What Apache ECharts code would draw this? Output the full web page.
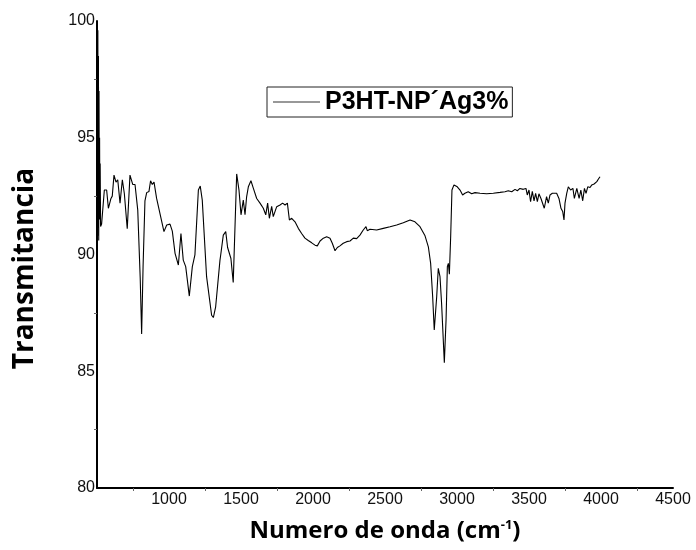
<!DOCTYPE html>
<html>
<head>
<meta charset="utf-8">
<title>FTIR P3HT-NP´Ag3%</title>
<script src="https://cdn.jsdelivr.net/npm/echarts@6/dist/echarts.min.js"></script>
<style>
  html, body { margin: 0; padding: 0; background: #fff; }
  #chart { width: 696px; height: 550px; }
</style>
</head>
<body>
<div id="chart"></div>
<script>
// FTIR spectrum of P3HT with 3% Ag nanoparticles
const seriesName = 'P3HT-NP´Ag3%';

// wavenumber (cm^-1)
const wavenumber = [
  500, 502, 504, 506, 508, 510, 512, 514, 516, 518, 520, 522, 525, 532,
  551, 567, 579, 597, 606, 618, 632, 644, 660, 676, 690, 710, 729, 748,
  764, 783, 800, 810, 820, 833, 845, 861, 872, 884, 896, 914, 937, 965,
  984, 1007, 1023, 1042, 1065, 1083, 1099, 1116, 1141, 1162, 1180, 1204,
  1217, 1231, 1261, 1296, 1308, 1324, 1354, 1359, 1377, 1394, 1407, 1417,
  1430, 1446, 1470, 1486, 1500, 1516, 1528, 1539, 1551, 1569, 1586, 1609,
  1632, 1655, 1672, 1685, 1697, 1713, 1724, 1748, 1771, 1789, 1806, 1822,
  1836, 1852, 1875, 1898, 1921, 1944, 1967, 1991, 2014, 2030, 2049, 2072,
  2095, 2118, 2134, 2153, 2169, 2187, 2210, 2234, 2257, 2280, 2303, 2326,
  2338, 2349, 2368, 2377, 2396, 2442, 2488, 2535, 2581, 2627, 2674, 2708,
  2743, 2778, 2801, 2817, 2831, 2842, 2859, 2870, 2882, 2893, 2912, 2924,
  2933, 2940, 2947, 2956, 2965, 2979, 3002, 3021, 3039, 3055, 3078, 3102,
  3125, 3160, 3206, 3252, 3299, 3333, 3356, 3380, 3403, 3419, 3437, 3460,
  3479, 3488, 3500, 3511, 3523, 3535, 3546, 3558, 3569, 3583, 3595, 3606,
  3622, 3634, 3646, 3662, 3674, 3692, 3708, 3722, 3734, 3743, 3750, 3762,
  3773, 3789, 3805, 3815, 3832, 3848, 3860, 3873, 3885, 3896, 3908, 3924,
  3936, 3952, 3971, 3981, 3993
];

// transmittance (%)
const transmitancia = [
  96.0, 100.0, 90.8, 99.6, 91.2, 98.5, 90.6, 97.0, 92.2, 95.0, 91.5, 93.9, 91.2, 91.3,
  92.76, 92.76, 91.98, 92.4, 92.5, 93.4, 93.1, 93.2, 92.2, 93.2, 92.6, 91.1, 93.4, 93.0,
  93.0, 91.9, 89.0, 86.6, 89.5, 92.3, 92.65, 92.7, 93.16, 93.0, 93.1, 92.4, 91.76, 90.98,
  91.26, 91.3, 91.0, 90.05, 89.55, 90.9, 89.76, 89.48, 88.22, 89.48, 89.98, 92.76,
  92.93, 92.33, 89.05, 87.4, 87.3, 87.76, 89.76, 89.98, 90.83, 90.98, 90.3, 90.27,
  89.83, 88.8, 93.45, 92.76, 91.7, 92.33, 91.7, 92.47, 92.9, 93.16, 92.83, 92.4,
  92.2, 91.98, 91.7, 92.2, 91.55, 92.06, 91.62, 92.05, 92.12, 92.2, 92.12, 92.2,
  91.48, 91.55, 91.4, 91.12, 90.9, 90.7, 90.6, 90.5, 90.4, 90.37, 90.58, 90.7,
  90.76, 90.7, 90.48, 90.16, 90.3, 90.37, 90.48, 90.55, 90.58, 90.7, 90.68, 90.83,
  90.9, 91.05, 91.19, 91.02, 91.08, 91.05, 91.12, 91.19, 91.26, 91.36, 91.48, 91.4,
  91.19, 90.8, 90.33, 89.62, 88.19, 86.77, 88.19, 89.41, 89.05, 87.9, 85.37, 87.2,
  89.48, 89.62, 89.16, 90.76, 92.76, 92.98, 92.9, 92.76, 92.55, 92.62, 92.69, 92.6,
  92.65, 92.62, 92.6, 92.62, 92.66, 92.69, 92.73, 92.69, 92.79, 92.73, 92.83, 92.79,
  92.83, 92.55, 92.76, 92.26, 92.7, 92.3, 92.62, 92.26, 92.6, 92.4, 92.4, 91.98,
  92.48, 92.2, 92.55, 92.62, 92.55, 92.62, 92.4, 91.98, 91.84, 91.48, 92.2, 92.62,
  92.9, 92.76, 92.83, 92.4, 92.83, 92.4, 92.76, 92.3, 92.83, 92.62, 92.9, 92.87,
  92.98, 93.02, 93.12, 93.22, 93.33
];

// axis ranges and tick spacing
const xRange = [500, 4500];
const xStep = 500;
const yRange = [80, 100];
const yStep = 5;

const points = wavenumber.map((w, i) => [w, transmitancia[i]]);

const tickFont = 'Liberation Sans, Arial, sans-serif';
const titleFont = '"Open Sans", "Noto Sans", sans-serif';

const chart = echarts.init(document.getElementById('chart'), null, { renderer: 'canvas' });

chart.setOption({
  backgroundColor: '#ffffff',
  animation: false,
  grid: { left: 97, right: 23, top: 21, bottom: 62, containLabel: false },
  legend: {
    data: [{ name: seriesName, icon: 'rect' }],
    left: 267,
    top: 87,
    padding: [2, 4, 2, 6],
    borderColor: '#222',
    borderWidth: 1,
    itemWidth: 47,
    itemHeight: 1,
    itemStyle: { color: '#333' },
    selectedMode: false,
    textStyle: {
      fontFamily: tickFont,
      fontWeight: 'bold',
      fontSize: 25,
      lineHeight: 26,
      color: '#000'
    }
  },
  xAxis: {
    type: 'value',
    min: xRange[0],
    max: xRange[1],
    interval: xStep,
    name: '{t|Numero de onda (cm}{s|-1}{t|)}',
    nameLocation: 'middle',
    nameGap: 31,
    nameTextStyle: {
      rich: {
        t: { fontFamily: titleFont, fontWeight: 'bold', fontSize: 24, color: '#000' },
        s: { fontFamily: titleFont, fontWeight: 'bold', fontSize: 13, color: '#000', verticalAlign: 'top', padding: [0, 0, 12, 0] }
      }
    },
    axisLine: { show: true, onZero: false, lineStyle: { color: '#000', width: 2 } },
    axisTick: { show: false },
    minorTick: { show: true, splitNumber: 2, length: 3, lineStyle: { color: '#666', width: 1 } },
    splitLine: { show: false },
    minorSplitLine: { show: false },
    axisLabel: {
      margin: 4,
      fontFamily: tickFont,
      fontSize: 16,
      color: '#111',
      formatter: v => (v === xRange[0] ? '' : String(v))
    }
  },
  yAxis: {
    type: 'value',
    min: yRange[0],
    max: yRange[1],
    interval: yStep,
    name: 'Transmitancia',
    nameLocation: 'middle',
    nameGap: 58,
    nameTextStyle: {
      fontFamily: titleFont, fontWeight: 'bold', fontSize: 28, color: '#000',
      padding: [0, 28, 0, 0]
    },
    axisLine: { show: true, onZero: false, lineStyle: { color: '#000', width: 2 } },
    axisTick: { show: false },
    minorTick: { show: true, splitNumber: 2, length: 3, lineStyle: { color: '#666', width: 1 } },
    splitLine: { show: false },
    minorSplitLine: { show: false },
    axisLabel: {
      margin: 2,
      fontFamily: tickFont,
      fontSize: 16,
      color: '#111'
    }
  },
  series: [{
    name: seriesName,
    type: 'line',
    data: points,
    symbol: 'none',
    showSymbol: false,
    lineStyle: { color: '#000', width: 1.1 },
    itemStyle: { color: '#000' },
    emphasis: { disabled: true }
  }]
});
</script>
</body>
</html>
